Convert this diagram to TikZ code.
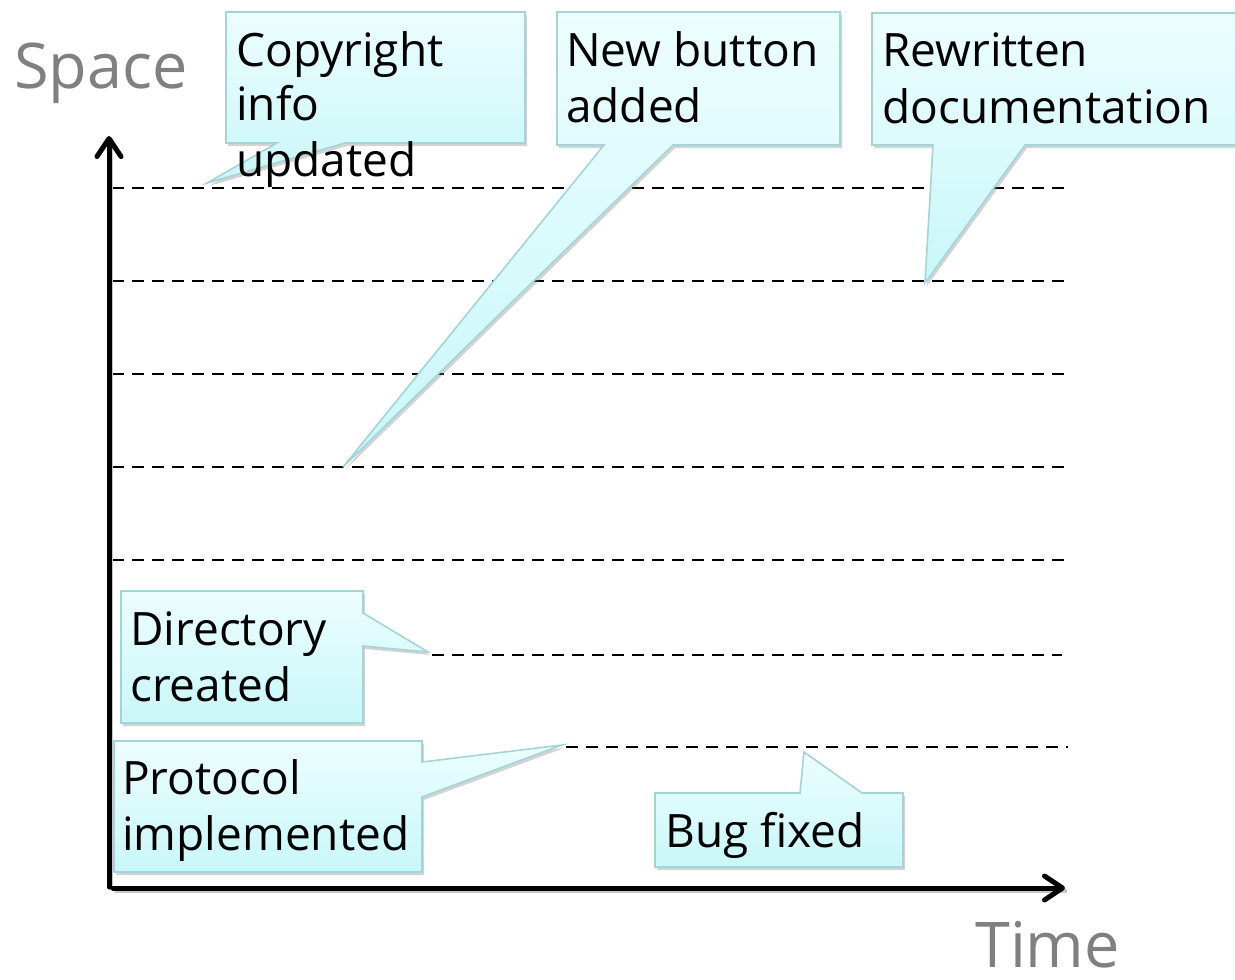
\documentclass[tikz,border=0pt]{standalone}
\usepackage{fontspec}
\setmainfont{Open Sans}
\usetikzlibrary{shadows,arrows.meta}

\definecolor{calloutTop}{HTML}{ECFEFE}
\definecolor{calloutBot}{HTML}{C9F7F9}
\definecolor{calloutLine}{HTML}{A4D4D8}
\definecolor{axisGray}{HTML}{808080}

\tikzset{
  callout/.style={draw=calloutLine, line width=1.6pt, line join=miter,
    top color=calloutTop, bottom color=calloutBot,
    drop shadow={opacity=0.35, shadow xshift=2pt, shadow yshift=-3pt}},
  lbl/.style={anchor=base west, inner sep=0pt, font=\fontsize{46}{52}\selectfont},
  axislbl/.style={anchor=base west, inner sep=0pt, text depth=0pt, text=axisGray,
    font=\fontsize{63}{70}\selectfont},
  axisline/.style={line width=5pt, line cap=round,
    -{Straight Barb[length=18pt, width=24pt, round]}},
  axisshadow/.style={draw=black!22, line width=4pt},
  level/.style={line width=2.8pt, dash pattern=on 12pt off 8pt},
}

\begin{document}
\begin{tikzpicture}[x=1pt, y=-1pt]
  \useasboundingbox (0,0) rectangle (1235,980);

  % axis corners and ends
  \coordinate (origin) at (109,887);
  \coordinate (spaceEnd) at (109,136);
  \coordinate (timeStart) at (113,888);
  \coordinate (timeEnd) at (1065,888);

  % horizontal version levels
  \foreach \y in {188,281,374,467,560}
    \draw[level] (112,\y) -- (1068,\y);
  \coordinate (dirLevel) at (432,655);
  \coordinate (dirLevelEnd) at (1062,655);
  \draw[level] (dirLevel) -- (dirLevelEnd);
  \coordinate (protoLevel) at (566,747);
  \coordinate (protoLevelEnd) at (1068,747);
  \draw[level] (protoLevel) -- (protoLevelEnd);

  % axes with a soft offset shadow
  \draw[axisshadow] ([shift={(2,3)}]origin) -- ([shift={(2,3)}]spaceEnd);
  \draw[axisshadow] ([shift={(2,3)}]timeStart) -- ([shift={(2,3)}]timeEnd);
  \draw[axisline] (origin) -- (spaceEnd);
  \draw[axisline] (timeStart) -- (timeEnd);

  \node[axislbl] (space) at (14,88) {Space};
  \node[axislbl] (time) at (975,967) {Time};

  % callout tips
  \coordinate (tipCopy) at (207,183);
  \coordinate (tipButton) at (343,467);
  \coordinate (tipDoc) at (925,283);
  \coordinate (tipDir) at (428,652);
  \coordinate (tipProto) at (562,745);
  \coordinate (tipBug) at (804,752);

  % callout bodies
  \path[callout] (226,12) -- (525,12) -- (525,143) -- (345,143) -- (tipCopy)
    -- (277,143) -- (226,143) -- cycle;
  \path[callout] (557,12) -- (840,12) -- (840,145) -- (673,145) -- (tipButton)
    -- (604,145) -- (557,145) -- cycle;
  \path[callout] (872,13) -- (1250,13) -- (1250,145) -- (1025,145) -- (tipDoc)
    -- (933,145) -- (872,145) -- cycle;
  \path[callout] (121,591) -- (363,591) -- (363,613) -- (tipDir)
    -- (363,646) -- (363,723) -- (121,723) -- cycle;
  \path[callout] (114,741) -- (422,741) -- (422,762) -- (tipProto)
    -- (422,797) -- (422,872) -- (114,872) -- cycle;
  \path[callout] (655,793) -- (800,793) -- (tipBug) -- (862,793)
    -- (903,793) -- (903,867) -- (655,867) -- cycle;

  % callout texts
  \node[lbl] (copyA) at (236,66) {Copyright};
  \node[lbl] (copyB) at (236,120) {info};
  \node[lbl] (copyC) at (236,176) {updated};
  \node[lbl] (buttonA) at (566,66) {New button};
  \node[lbl] (buttonB) at (566,122) {added};
  \node[lbl] (docA) at (882,66) {Rewritten};
  \node[lbl] (docB) at (882,123) {documentation};
  \node[lbl] (dirA) at (130,645) {Directory};
  \node[lbl] (dirB) at (130,701) {created};
  \node[lbl] (protoA) at (122,794) {Protocol};
  \node[lbl] (protoB) at (122,850) {implemented};
  \node[lbl] (bug) at (665,847) {Bug fixed};
\end{tikzpicture}
\end{document}
